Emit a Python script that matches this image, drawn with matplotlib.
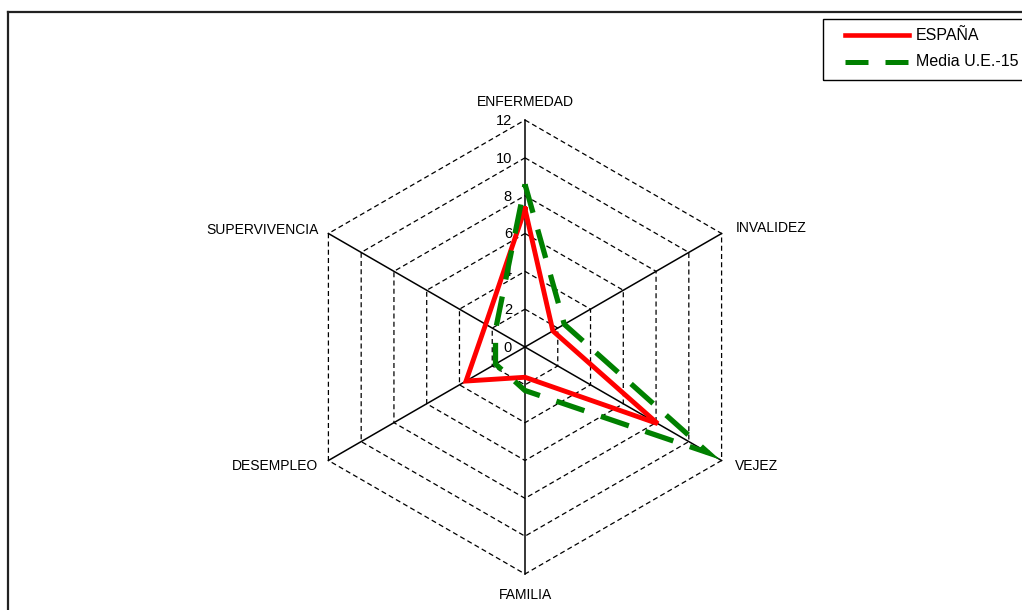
import numpy as np
import matplotlib
matplotlib.use("Agg")
import matplotlib.pyplot as plt
from matplotlib.lines import Line2D
from matplotlib.patches import Rectangle

# ---------------- data ----------------
categories = ['ENFERMEDAD', 'INVALIDEZ', 'VEJEZ', 'FAMILIA', 'DESEMPLEO', 'SUPERVIVENCIA']
espana = [7.3, 1.7, 8.1, 1.6, 3.6, 2.4]
media_ue15 = [8.6, 2.4, 11.2, 2.3, 1.8, 1.8]
series_names = ['ESPAÑA', 'Media U.E.-15']
ticks = [0, 2, 4, 6, 8, 10, 12]
rmax = 12

plt.rcParams['font.family'] = ['Liberation Sans', 'DejaVu Sans']

W, H = 1022, 610
fig = plt.figure(figsize=(W / 100, H / 100), dpi=100)
fig.patch.set_facecolor('white')

# axes covering full figure; data units = chart values
cx, cy = 525, 347          # center in pixels (from top)
unit = 227 / rmax          # pixels per value unit
ax = fig.add_axes([0, 0, 1, 1])
ax.set_xlim(-cx / unit, (W - cx) / unit)
ax.set_ylim(-(H - cy) / unit, cy / unit)
ax.axis('off')

n = len(categories)
angles = np.deg2rad(90 - 60 * np.arange(n))   # clockwise from top


def xy(vals):
    v = np.asarray(vals, dtype=float)
    x = v * np.cos(angles)
    y = v * np.sin(angles)
    return np.append(x, x[0]), np.append(y, y[0])


# hexagonal grid
for t in ticks[1:]:
    gx, gy = xy([t] * n)
    ax.plot(gx, gy, color='black', lw=0.9, linestyle=(0, (4, 2.6)), zorder=1)

# spokes
for a in angles:
    ax.plot([0, rmax * np.cos(a)], [0, rmax * np.sin(a)], color='black', lw=1.1, zorder=1)

# tick labels
for t in ticks:
    ax.annotate(str(t), (0, t), xytext=(-13, -1), textcoords='offset pixels',
                ha='right', va='center', fontsize=10.5, color='black', zorder=3)

# category labels
offsets = [(0, 18, 'center'), (14, 5, 'left'), (13, -6, 'left'),
           (0, -21, 'center'), (-10, -6, 'right'), (-10, 3, 'right')]
for lab, a, (dx, dy, ha) in zip(categories, angles, offsets):
    ax.annotate(lab, (rmax * np.cos(a), rmax * np.sin(a)), xytext=(dx, dy),
                textcoords='offset pixels', ha=ha, va='center', fontsize=10, color='black')

# series
ex, ey = xy(espana)
ax.plot(ex, ey, color='#ff0000', lw=3.5, solid_joinstyle='miter', zorder=4)
mx, my = xy(media_ue15)
ax.plot(mx, my, color='#008000', lw=3.8, linestyle=(0, (5.6, 3.3)),
        dash_joinstyle='miter', dash_capstyle='butt', zorder=5)

# outer frame (extends beyond right and bottom edges)
fx = lambda px: px / W
fy = lambda py: 1 - py / H
fig.add_artist(Line2D([fx(8), 1.0], [fy(12), fy(12)], color='#222222', lw=1.6, transform=fig.transFigure))
fig.add_artist(Line2D([fx(8), fx(8)], [fy(12), 0.0], color='#222222', lw=1.6, transform=fig.transFigure))

# legend box
fig.add_artist(Rectangle((fx(823), fy(80)), fx(W + 10) - fx(823), fy(19) - fy(80),
                         transform=fig.transFigure, fill=False, edgecolor='black', lw=1.0))
fig.add_artist(Line2D([fx(845), fx(909)], [fy(35), fy(35)], color='#ff0000', lw=3.3,
                      transform=fig.transFigure))
fig.add_artist(Line2D([fx(845), fx(909)], [fy(62), fy(62)], color='#008000', lw=3.6,
                      linestyle=(0, (4.6, 3.4)), transform=fig.transFigure))
fig.text(fx(916), fy(35), series_names[0], ha='left', va='center', fontsize=11.5)
fig.text(fx(916), fy(62), series_names[1], ha='left', va='center', fontsize=11.5)

fig.savefig('out.png', dpi=100, facecolor='white')
